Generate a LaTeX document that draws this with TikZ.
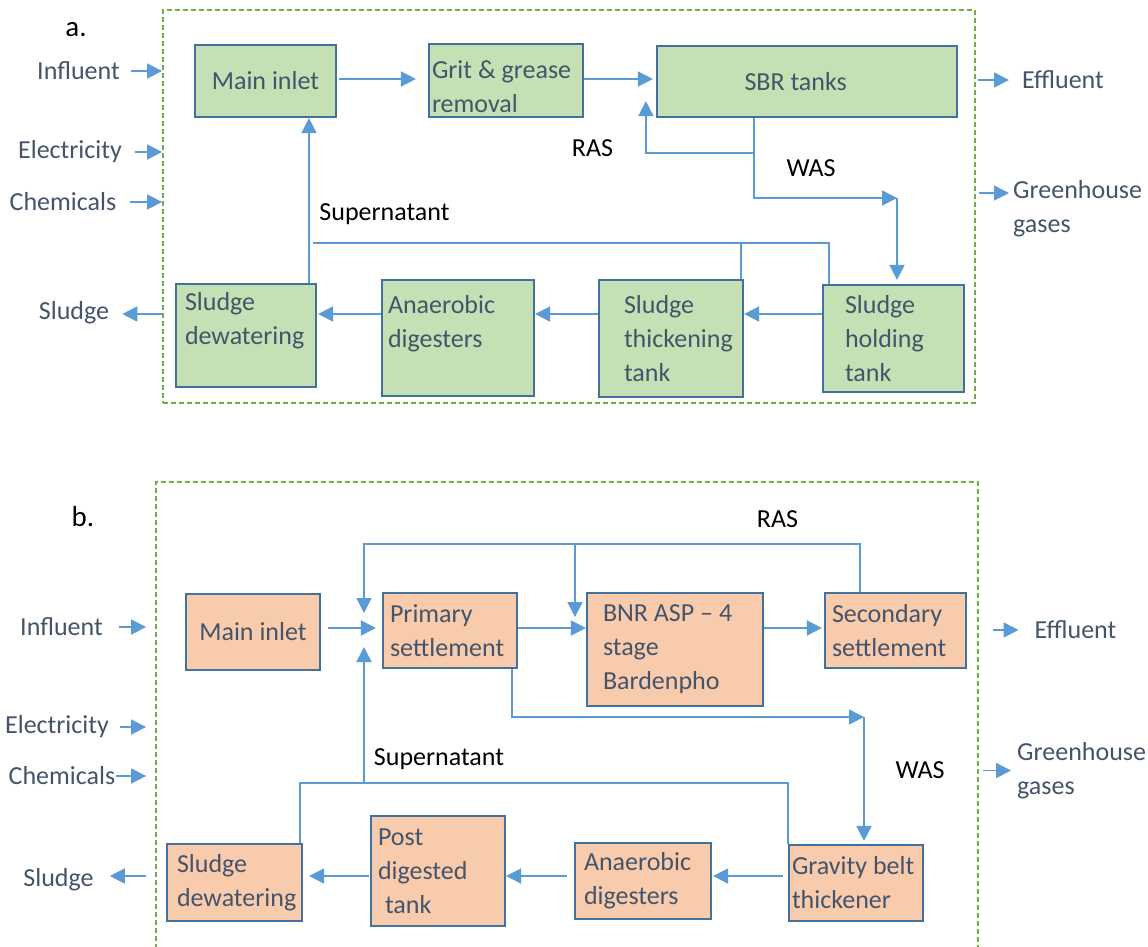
\documentclass[tikz,border=0pt]{standalone}
\usepackage{fontspec}
\setmainfont{Carlito}
\usetikzlibrary{arrows.meta}
\hyphenpenalty=10000
\exhyphenpenalty=10000
\definecolor{flow}{HTML}{5B9BD5}
\definecolor{edge}{HTML}{41719C}
\definecolor{grn}{HTML}{C5E0B4}
\definecolor{org}{HTML}{F8CBAD}
\definecolor{txt}{HTML}{44546A}
\definecolor{frm}{HTML}{70AD47}
\begin{document}
\begin{tikzpicture}[x=1pt,y=-1pt,
  every node/.style={font=\fontsize{26}{34}\selectfont},
  boundary/.style={draw=frm, line width=1.8pt, dash pattern=on 5pt off 3pt, inner sep=0pt},
  proc/.style={draw=edge, line width=2.2pt, inner sep=0pt, text=txt, align=flush left},
  gbox/.style={proc, fill=grn},
  obox/.style={proc, fill=org},
  lbl/.style={text=txt, inner sep=0pt},
  note/.style={text=black, inner sep=0pt},
  flowline/.style={draw=flow, line width=1.6pt},
  flowarrow/.style={flowline, -{Triangle[length=15pt,width=15pt]}}]

\useasboundingbox (0,0) rectangle (1148,946);
\clip (0,0) rectangle (1148,946);
\fill[white] (0,0) rectangle (1148,946);

% ---------------- a. SBR plant ----------------
\node[boundary, minimum width=812pt, minimum height=393pt] (frameA) at (569,206.5) {};
\node[note, font=\fontsize{29}{34}\selectfont] (tagA) at (76,30) {a.};

\node[gbox, minimum width=141pt, minimum height=72pt, align=center] (mainA) at (265.5,81) {Main inlet};
\node[gbox, minimum width=154pt, minimum height=73pt, text width=148pt] (gritA) at (506,80.5) {\rule{0pt}{30pt}Grit \& grease\\removal};
\node[gbox, minimum width=300pt, minimum height=71pt, text width=125pt] (sbrA) at (807,81.5) {SBR tanks};
\node[gbox, minimum width=140pt, minimum height=103pt, text width=122pt] (dewA) at (246,335.5) {Sludge\\dewatering\\\mbox{}};
\node[gbox, minimum width=152pt, minimum height=116pt, text width=140pt] (anaA) at (458,338) {Anaerobic\\digesters\\\mbox{}};
\node[gbox, minimum width=144pt, minimum height=117pt, text width=94pt] (thkA) at (671,338.5) {Sludge\\thickening\\tank};
\node[gbox, minimum width=141pt, minimum height=107pt, text width=97pt] (holdA) at (893.5,338.5) {Sludge\\holding\\tank};

\node[lbl] (inflA) at (78.5,71) {Influent};
\node[lbl] (elecA) at (70,152) {Electricity};
\node[lbl] (chemA) at (63,202) {Chemicals};
\node[lbl] (sludgeA) at (74,313) {Sludge};
\node[lbl] (effA) at (1063,80) {Effluent};
\node[lbl, anchor=west, align=left] (ghgA) at (1013,208.5) {Greenhouse\\gases};

\node[note] (tSupA) at (384.5,214) {Supernatant};
\node[note] (tRasA) at (592.5,148) {RAS};
\node[note] (tWasA) at (811,168) {WAS};

\coordinate (topA) at (0,79);
\coordinate (rowA) at (0,314);
\coordinate (ghgRowA) at (0,193);
\coordinate (wasA) at (897,198);
\coordinate (supEndA) at (313,243);

\draw[flowarrow, shorten <=2pt, shorten >=12pt] (mainA.east |- topA) -- (gritA.west |- topA);
\draw[flowarrow, shorten >=3pt] (gritA.east |- topA) -- (sbrA.west |- topA);
% return and waste activated sludge
\draw[flowarrow] ([xshift=-53pt]sbrA.south) -- ++(0,35) -| ([xshift=-10pt,yshift=17pt]sbrA.south west);
\draw[flowarrow] ([xshift=-53pt]sbrA.south) |- (wasA);
\draw[flowarrow, shorten >=4pt] (wasA) -- (wasA |- holdA.north);
% supernatant return
\draw[flowarrow] ([xshift=63pt]dewA.north) -- ([xshift=43.5pt]mainA.south);
\draw[flowline] ([xshift=-64.5pt]holdA.north) |- (supEndA);
\draw[flowline] ([xshift=70pt]thkA.north) -- ++(0,-37);
% sludge line
\draw[flowarrow] (holdA.west |- rowA) -- (thkA.east |- rowA);
\draw[flowarrow] (thkA.west |- rowA) -- (anaA.east |- rowA);
\draw[flowarrow, shorten >=1pt] (anaA.west |- rowA) -- (dewA.east |- rowA);
\draw[flowarrow, shorten >=13pt] (frameA.west |- rowA) -- (sludgeA.east |- rowA);
% inputs and outputs
\draw[flowarrow, shorten <=11pt] (inflA.east) -- (frameA.west |- inflA);
\draw[flowarrow, shorten <=13pt] (elecA.east) -- (frameA.west |- elecA);
\draw[flowarrow, shorten <=14pt] (chemA.east) -- (frameA.west |- chemA);
\draw[flowarrow, shorten <=2pt, shorten >=13pt] (frameA.east |- effA) -- (effA.west);
\draw[flowarrow, shorten <=3pt, shorten >=4pt] (frameA.east |- ghgRowA) -- (ghgA.west |- ghgRowA);

% ---------------- b. BNR plant ----------------
\node[boundary, minimum width=822pt, minimum height=478pt] (frameB) at (567,721) {};
\node[note, font=\fontsize{29}{34}\selectfont] (tagB) at (83,517) {b.};

\node[obox, minimum width=134pt, minimum height=76pt, align=center] (mainB) at (253,632) {Main inlet};
\node[obox, minimum width=134pt, minimum height=75pt, text width=120pt] (primB) at (450,630.5) {Primary\\settlement};
\node[obox, minimum width=176pt, minimum height=113pt, text width=144pt] (bnrB) at (675,649.5) {BNR ASP – 4\\stage\\Bardenpho};
\node[obox, minimum width=141pt, minimum height=75pt, text width=127pt] (secB) at (895.5,630.5) {Secondary\\settlement};
\node[obox, minimum width=135pt, minimum height=77pt, text width=115pt] (dewB) at (234.5,882.5) {Sludge\\dewatering};
\node[obox, minimum width=134pt, minimum height=110pt, text width=120pt] (postB) at (438,871) {Post\\digested\\\hspace*{7pt}tank};
\node[obox, minimum width=136pt, minimum height=76pt, text width=118pt] (anaB) at (643,881) {Anaerobic\\digesters};
\node[obox, minimum width=134pt, minimum height=76pt, text width=128pt] (grvB) at (856,883) {Gravity belt\\thickener};

\node[lbl] (inflB) at (61.5,627) {Influent};
\node[lbl] (elecB) at (57,727) {Electricity};
\node[lbl] (chemB) at (62,776) {Chemicals};
\node[lbl] (sludgeB) at (58.5,880) {Sludge};
\node[lbl] (effB) at (1075.5,630) {Effluent};
\node[lbl, anchor=west, align=left] (ghgB) at (1017,770.5) {Greenhouse\\gases};

\node[note] (tSupB) at (439,759) {Supernatant};
\node[note] (tRasB) at (777.5,519) {RAS};
\node[note] (tWasB) at (920,770) {WAS};

\coordinate (topB) at (0,628);
\coordinate (rowB) at (0,876);
\coordinate (rasB) at (0,544);
\coordinate (supB) at (0,783);
\coordinate (jB) at (364,628);
\coordinate (kB) at (575,628);
\coordinate (wasB) at (864,717);

\draw[flowarrow, shorten <=7pt, shorten >=6pt] (mainB.east |- topB) -- (primB.west |- topB);
\draw[flowarrow] (primB.east |- topB) -- (bnrB.west |- topB);
\draw[flowarrow, shorten >=2pt] (bnrB.east |- topB) -- (secB.west |- topB);
% return activated sludge
\draw[flowarrow, shorten >=15pt] ([xshift=-35.5pt]secB.north) |- (rasB -| jB) -- (jB);
\draw[flowarrow, shorten >=11pt] (rasB -| kB) -- (kB);
% supernatant return
\draw[flowline] ([xshift=65.5pt]dewB.north) |- (grvB.north west |- supB) -- (grvB.north west);
\draw[flowarrow, shorten >=19pt] (supB -| jB) -- (jB);
% waste sludge to thickener
\draw[flowarrow] ([xshift=62pt]primB.south) |- (wasB);
\draw[flowarrow, shorten >=3pt] (wasB) -- (wasB |- grvB.north);
% sludge line
\draw[flowarrow, shorten <=5pt, shorten >=1pt] (grvB.west |- rowB) -- (anaB.east |- rowB);
\draw[flowarrow, shorten <=7pt] (anaB.west |- rowB) -- (postB.east |- rowB);
\draw[flowarrow, shorten <=1pt, shorten >=6pt] (postB.west |- rowB) -- (dewB.east |- rowB);
\draw[flowarrow, shorten <=9pt, shorten >=16pt] (frameB.west |- rowB) -- (sludgeB.east |- rowB);
% inputs and outputs
\draw[flowarrow, shorten <=16pt, shorten >=9pt] (inflB.east) -- (frameB.west |- inflB);
\draw[flowarrow, shorten <=11pt, shorten >=9pt] (elecB.east) -- (frameB.west |- elecB);
\draw[flowarrow, shorten <=1pt, shorten >=9pt] (chemB.east) -- (frameB.west |- chemB);
\draw[flowarrow, shorten <=14pt, shorten >=16pt] (frameB.east |- effB) -- (effB.west);
\draw[flowarrow, shorten <=4pt, shorten >=6pt] (frameB.east |- ghgB) -- (ghgB.west);
\end{tikzpicture}
\end{document}
